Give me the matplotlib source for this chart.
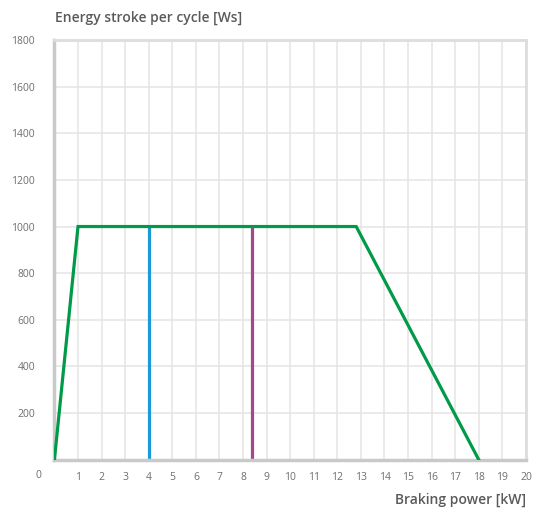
import matplotlib
matplotlib.use("Agg")
import matplotlib.pyplot as plt

# Data
green_x = [0, 1, 12.8, 18]
green_y = [0, 1000, 1000, 0]
blue_x = [4, 4]
blue_y = [0, 1000]
purple_x = [8.4, 8.4]
purple_y = [0, 1000]
x_ticks = list(range(1, 21))
y_ticks = [200, 400, 600, 800, 1000, 1200, 1400, 1600, 1800]

plt.rcParams['font.family'] = ['Open Sans', 'DejaVu Sans']

fig = plt.figure(figsize=(5.47, 5.12), dpi=100)
ax = fig.add_axes([0.0995, 0.102, 0.862, 0.820])
ax.set_xlim(0, 20)
ax.set_ylim(0, 1800)

ax.set_xticks(x_ticks)
ax.set_yticks(y_ticks)
ax.grid(True, color='#e4e4e4', linewidth=1.1)
ax.set_axisbelow(True)
ax.tick_params(axis='both', length=0, labelsize=7.5, labelcolor='#6e6e6e')
ax.tick_params(axis='x', pad=9)
ax.tick_params(axis='y', pad=14)

for s in ['left', 'bottom']:
    ax.spines[s].set_color('#c8cac9')
    ax.spines[s].set_linewidth(2.5)
for s in ['top', 'right']:
    ax.spines[s].set_color('#dddddd')
    ax.spines[s].set_linewidth(2)

ax.plot(green_x, green_y, color='#009a48', linewidth=2.3, solid_joinstyle='miter', zorder=3)
ax.plot(blue_x, blue_y, color='#1a9ad6', linewidth=2.3, zorder=2)
ax.plot(purple_x, purple_y, color='#a5478f', linewidth=2.3, zorder=2)

# '0' label offset left of the axis
fig.text(38/547, 1 - 475/512, '0', fontsize=7.5, color='#6e6e6e', ha='center', va='center')

fig.text(55/547, 1 - 18/512, 'Energy stroke per cycle [Ws]', fontsize=10, fontweight='semibold',
         color='#5a5a5a', ha='left', va='center')
fig.text(526/547, 1 - 500/512, 'Braking power [kW]', fontsize=10, fontweight='semibold',
         color='#5a5a5a', ha='right', va='center')

fig.savefig('out.png', dpi=100)
